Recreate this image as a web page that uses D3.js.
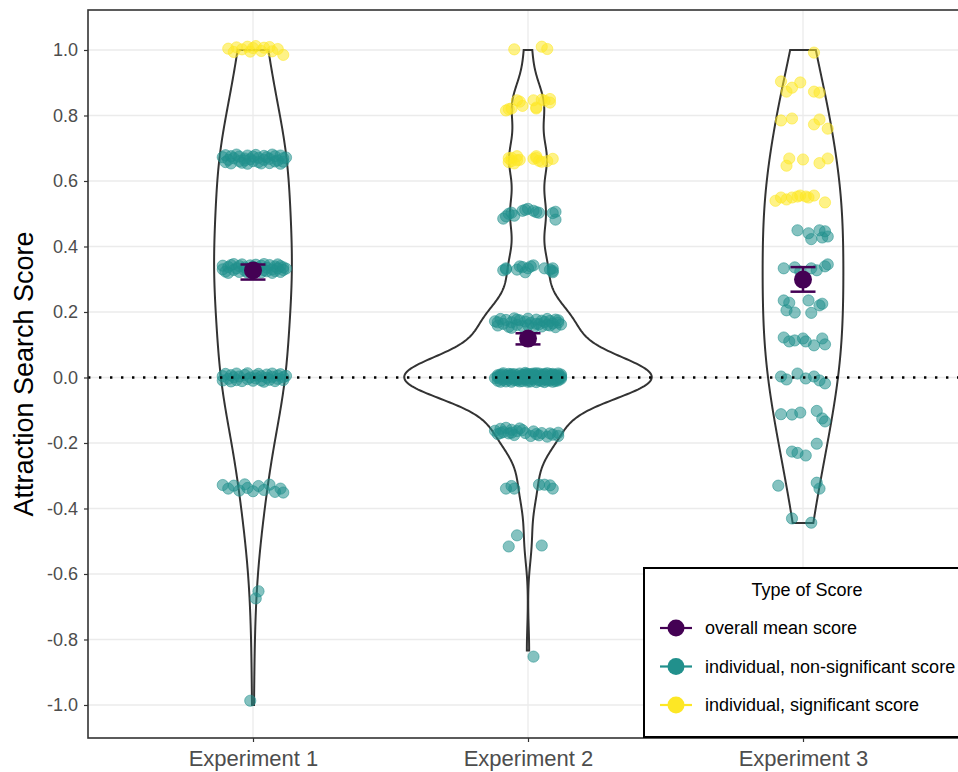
<!DOCTYPE html>
<html>
<head>
<meta charset="utf-8">
<script src="https://cdn.jsdelivr.net/npm/d3@7"></script>
<style>
  body { margin: 0; background: #fff; }
  svg { display: block; font-family: "Liberation Sans", Arial, sans-serif; }
</style>
</head>
<body>
<svg id="chart" width="958" height="772"></svg>
<script>
// ---- data ----
const experiments = ["Experiment 1", "Experiment 2", "Experiment 3"];
const yTicks = [-1, -0.8, -0.6, -0.4, -0.2, 0, 0.2, 0.4, 0.6, 0.8, 1];
const yTickLabels = ["-1.0", "-0.8", "-0.6", "-0.4", "-0.2", "0.0", "0.2", "0.4", "0.6", "0.8", "1.0"];

// overall mean score with its error bar, per experiment
const meanScores = [0.327, 0.119, 0.299];
const meanLow = [0.299, 0.101, 0.262];
const meanHigh = [0.345, 0.135, 0.337];

// violin smoothing bandwidth per experiment
const violinBandwidth = [0.19, 0.07, 0.18];

const legendTitle = "Type of Score";
const legendLabels = ["overall mean score", "individual, non-significant score", "individual, significant score"];
const colors = { mean: "#440154", nonsig: "#21908C", sig: "#FDE725" };

// individual scores: [score, significant, jitter pairs [dx (1/100 category), dy (1/1000 score)]]
const exp1Points = [
  [1, 1, [[-9,4],[-7,-6],[-6,8],[-4,2],[-2,10],[-1,-5],[0,6],[1,12],[3,-3],[4,7],[6,9],[7,-4],[9,3],[11,-15]]],
  [2/3, 0, [[-11,6],[-10,-9],[-10,12],[-9,-2],[-8,9],[-8,-13],[-7,3],[-6,14],[-5,-6],[-5,8],[-4,-11],[-3,2],[-2,11],[-2,-14],[-1,0],[0,8],[0,-6],[1,13],[2,-9],[2,4],[3,-13],[4,10],[4,-2],[5,6],[6,-12],[6,1],[7,14],[8,-7],[8,9],[9,-4],[10,11],[10,-14],[11,3],[11,-8],[12,5],[-3,-4]]],
  [1/3, 0, [[-11,-3],[-11,8],[-10,-10],[-9,4],[-9,-14],[-8,10],[-7,-5],[-7,13],[-6,0],[-5,-11],[-5,7],[-4,12],[-3,-7],[-3,3],[-2,-13],[-1,9],[-1,-2],[0,5],[0,-10],[1,11],[1,-4],[2,1],[3,-12],[3,8],[4,-6],[4,13],[5,2],[5,-9],[6,10],[7,-3],[7,-14],[8,6],[8,-8],[9,12],[9,0],[10,-11],[10,7],[11,-5],[11,3],[12,-1]]],
  [0, 0, [[-11,4],[-11,-9],[-10,11],[-9,-4],[-8,7],[-8,-12],[-7,1],[-6,-8],[-6,12],[-5,3],[-4,-11],[-3,8],[-2,-5],[-2,13],[-1,0],[0,-10],[1,6],[1,-3],[2,11],[3,-9],[3,4],[4,-13],[5,9],[5,-1],[6,-7],[7,12],[7,2],[8,-11],[9,6],[9,-4],[10,10],[11,-8],[11,1],[12,5]]],
  [-1/3, 0, [[-11,5],[-9,-6],[-7,3],[-5,-12],[-3,7],[-2,-4],[0,-14],[2,2],[4,-10],[6,6],[8,-16],[10,-6],[11,-18]]],
  [-2/3, 0, [[1,-8],[2,14]]],
  [-1, 0, [[-1,13]]]
];

const exp2Points = [
  [1, 1, [[-5,2],[5,10],[7,3]]],
  [5/6, 1, [[-8,-18],[-6,-12],[-4,13],[2,13],[3,-12],[5,15],[8,17],[8,6],[-2,-4],[-7,-14],[3,-9],[6,12],[-3,9]]],
  [2/3, 1, [[-7,3],[-6,-6],[-4,9],[-5,-13],[2,1],[3,9],[4,-5],[7,-6],[9,1],[-3,-2],[-6,4],[-4,-3],[3,4],[5,-8],[-7,-9]]],
  [1/2, 0, [[-9,-15],[-7,0],[-2,9],[0,15],[2,9],[4,3],[10,6],[10,-18],[-5,-6],[-8,-8],[-1,12],[3,5],[9,2],[-6,3]]],
  [1/3, 0, [[-9,-6],[-8,0],[-3,6],[-1,-12],[0,0],[2,9],[6,0],[9,0],[9,-12],[-4,-4],[-8,-3],[-2,4],[1,6],[8,-4],[9,-8]]],
  [1/6, 0, [[-12,5],[-11,-8],[-10,12],[-9,-3],[-8,9],[-7,-12],[-6,2],[-5,14],[-4,-6],[-3,8],[-2,-10],[-1,4],[0,13],[0,-7],[1,0],[2,-14],[3,10],[4,-4],[5,7],[5,-11],[6,3],[7,12],[8,-8],[8,6],[9,-2],[10,10],[10,-13],[11,1],[12,-5],[-6,-15],
            [-11,2],[-4,10],[3,-3],[7,-6],[11,8]]],
  [0, 0, [[-11,3],[-11,-10],[-10,9],[-10,-4],[-9,13],[-9,-1],[-8,-12],[-8,6],[-7,0],[-7,11],
          [-7,-7],[-6,4],[-6,-13],[-5,10],[-5,-3],[-4,7],[-4,-9],[-4,1],[-3,12],[-3,-6],
          [-2,3],[-2,-11],[-2,8],[-1,-2],[-1,14],[0,-8],[0,5],[0,-1],[1,10],[1,-12],
          [1,2],[2,-5],[2,9],[3,-14],[3,0],[3,6],[4,-9],[4,12],[5,-2],[5,4],
          [5,-11],[6,8],[6,-6],[7,1],[7,13],[7,-10],[8,5],[8,-3],[9,11],[9,-13],
          [9,2],[10,-7],[10,8],[11,-1],[11,12],[11,-9],[12,4],[12,-4],[-11,7],[-9,-7],
          [-8,1],[-6,10],[-5,-8],[-3,2],[-1,-6],[0,11],[2,-1],[4,3],[6,-14],[8,10],
          [10,0],[-10,-13],[-7,5],[-4,-4],[-1,7],[1,-4],[3,13],[6,1],[9,-5],[11,6],
          [-12,-2],[-9,9],[-6,-2],[-3,-12],[0,2],[2,12],[5,9],[7,-5],[10,-11],[12,9],
          [-11,0],[-10,5],[-8,-5],[-6,7],[-5,0],[-3,-3],[-1,10],[0,-13],[2,4],[4,-6],
          [6,11],[8,-9],[9,7],[11,-4],[12,0]]],
  [-1/6, 0, [[-12,4],[-11,-6],[-10,10],[-9,0],[-8,13],[-7,-4],[-6,7],[-5,-9],[-4,3],[-3,11],[-1,-3],[1,-12],[2,2],[4,-10],[5,-3],[7,-14],[9,-8],[11,-12],[11,-2],[-2,6],
             [-10,-3],[-6,-2],[3,-6],[8,-4]]],
  [-1/3, 0, [[-8,-6],[-5,-6],[4,6],[6,6],[8,4],[9,-6],[-6,2]]],
  [-1/2, 0, [[-4,18],[-7,-16],[5,-13]]],
  [-5/6, 0, [[2,-19]]]
];

const exp3Points = [
  [1, 1, [[4,-8]]],
  [8/9, 1, [[-8,15],[-6,-16],[-4,-4],[-1,12],[4,-16],[6,-19]]],
  [7/9, 1, [[-8,7],[-4,13],[4,-5],[6,10],[9,-18]]],
  [6/9, 1, [[-5,2],[-6,-20],[0,-1],[6,-12],[9,2]]],
  [5/9, 1, [[-10,-16],[-8,-6],[-6,-12],[-4,-6],[-2,-3],[-1,0],[1,-3],[2,-6],[4,0],[8,-21]]],
  [4/9, 0, [[-2,5],[2,-4],[6,5],[8,2],[7,-17],[9,-14],[3,-22]]],
  [3/9, 0, [[-7,0],[-1,-10],[3,0],[5,-6],[9,12],[8,6],[-3,3]]],
  [2/9, 0, [[-7,13],[-6,-17],[-3,-24],[2,13],[3,-25],[6,-2],[7,3],[-5,6]]],
  [1/9, 0, [[-7,11],[-5,-1],[-3,2],[1,-1],[4,-13],[7,8],[8,-10],[0,8]]],
  [0, 0, [[-8,3],[-2,12],[1,-3],[4,3],[6,-9],[8,-18],[-6,-6]]],
  [-1/9, 0, [[-8,-1],[-4,-2],[5,9],[7,-14],[8,-23],[-1,4]]],
  [-2/9, 0, [[-4,-4],[-2,-8],[1,-16],[5,20]]],
  [-3/9, 0, [[-9,3],[5,12],[6,-6]]],
  [-4/9, 0, [[-4,14],[3,1]]]
];

const allPoints = [exp1Points, exp2Points, exp3Points];

// ---- layout ----
const svg = d3.select("#chart");
const panel = { left: 88, top: 10, right: 968, bottom: 738 };

const x = d3.scalePoint()
  .domain(experiments)
  .range([panel.left, panel.right])
  .padding(0.6);
const step = x.step();

const y = d3.scaleLinear()
  .domain([-1.1008, 1.1221])
  .range([panel.bottom, panel.top]);

// grid
const grid = svg.append("g");
grid.selectAll("line.h").data(yTicks).enter().append("line")
  .attr("x1", panel.left).attr("x2", panel.right)
  .attr("y1", d => y(d)).attr("y2", d => y(d))
  .attr("stroke", "#ebebeb").attr("stroke-width", 1.3);
grid.selectAll("line.v").data(experiments).enter().append("line")
  .attr("x1", d => x(d)).attr("x2", d => x(d))
  .attr("y1", panel.top).attr("y2", panel.bottom)
  .attr("stroke", "#ebebeb").attr("stroke-width", 1.3);

// violins (gaussian kde, trimmed, scaled by area)
function kde(values, bw) {
  const lo = d3.min(values), hi = d3.max(values);
  const norm = values.length * bw * Math.sqrt(2 * Math.PI);
  return d3.range(512).map(i => {
    const v = lo + (hi - lo) * i / 511;
    return [v, d3.sum(values, s => Math.exp(-0.5 * ((v - s) / bw) ** 2)) / norm];
  });
}

const densities = allPoints.map((levels, i) => {
  const scores = levels.flatMap(([s, , pts]) => pts.map(() => s));
  return kde(scores, violinBandwidth[i]);
});
const maxDensity = d3.max(densities, ds => d3.max(ds, d => d[1]));
const w = d3.scaleLinear().domain([0, maxDensity]).range([0, 0.45 * step]);

densities.forEach((ds, i) => {
  const cx = x(experiments[i]);
  const area = d3.area()
    .y(d => y(d[0]))
    .x0(d => cx - w(d[1]))
    .x1(d => cx + w(d[1]));
  svg.append("path")
    .attr("d", area(ds))
    .attr("fill", "none")
    .attr("stroke", "#333333")
    .attr("stroke-width", 2);
});

// jittered points
const pointRows = allPoints.flatMap((levels, i) =>
  levels.flatMap(([s, sig, pts]) => pts.map(([dx, dy]) => ({ exp: experiments[i], s, sig, dx, dy })))
);
svg.append("g").selectAll("circle").data(pointRows).enter().append("circle")
  .attr("cx", d => x(d.exp) + d.dx / 100 * step)
  .attr("cy", d => y(d.s + d.dy / 1000))
  .attr("r", 5.6)
  .attr("fill", d => d.sig ? colors.sig : colors.nonsig)
  .attr("fill-opacity", 0.55)
  .attr("stroke", d => d.sig ? colors.sig : colors.nonsig)
  .attr("stroke-opacity", 0.55)
  .attr("stroke-width", 1);

// dotted zero line
svg.append("line")
  .attr("x1", panel.left).attr("x2", panel.right)
  .attr("y1", y(0)).attr("y2", y(0))
  .attr("stroke", "#000").attr("stroke-width", 2.4)
  .attr("stroke-dasharray", "2.4 8.6");

// means with error bars
const means = svg.append("g");
experiments.forEach((e, i) => {
  const cx = x(e);
  means.append("line").attr("x1", cx).attr("x2", cx)
    .attr("y1", y(meanLow[i])).attr("y2", y(meanHigh[i]))
    .attr("stroke", colors.mean).attr("stroke-width", 2.5);
  [meanLow[i], meanHigh[i]].forEach(v => {
    means.append("line").attr("x1", cx - 12.5).attr("x2", cx + 12.5)
      .attr("y1", y(v)).attr("y2", y(v))
      .attr("stroke", colors.mean).attr("stroke-width", 2.5);
  });
  means.append("circle").attr("cx", cx).attr("cy", y(meanScores[i]))
    .attr("r", 9).attr("fill", colors.mean);
});

// panel border
svg.append("rect")
  .attr("x", panel.left).attr("y", panel.top)
  .attr("width", panel.right - panel.left).attr("height", panel.bottom - panel.top)
  .attr("fill", "none").attr("stroke", "#333333").attr("stroke-width", 1.6);

// axes
const yAxis = svg.append("g")
  .attr("transform", `translate(${panel.left},0)`)
  .call(d3.axisLeft(y).tickValues(yTicks).tickSize(4).tickPadding(6)
    .tickFormat((d, i) => yTickLabels[i]));
yAxis.select(".domain").remove();
yAxis.selectAll("line").attr("stroke", "#333333").attr("stroke-width", 1.2);
yAxis.selectAll("text").attr("fill", "#4d4d4d").attr("font-size", 18)
  .attr("font-family", "Liberation Sans, Arial, sans-serif");

const xAxis = svg.append("g")
  .attr("transform", `translate(0,${panel.bottom})`)
  .call(d3.axisBottom(x).tickSize(4).tickPadding(8));
xAxis.select(".domain").remove();
xAxis.selectAll("line").attr("stroke", "#333333").attr("stroke-width", 1.2);
xAxis.selectAll("text").attr("fill", "#4d4d4d").attr("font-size", 22)
  .attr("font-family", "Liberation Sans, Arial, sans-serif");

svg.append("text")
  .attr("transform", `translate(33,${(panel.top + panel.bottom) / 2}) rotate(-90)`)
  .attr("text-anchor", "middle")
  .attr("font-size", 27)
  .attr("fill", "#000")
  .text("Attraction Search Score");

// legend
const legend = svg.append("g").attr("transform", "translate(644,568)");
legend.append("rect")
  .attr("width", 380).attr("height", 169)
  .attr("fill", "#fff").attr("stroke", "#000").attr("stroke-width", 2);
legend.append("text")
  .attr("x", 163).attr("y", 28)
  .attr("text-anchor", "middle")
  .attr("font-size", 18)
  .text(legendTitle);
const keyColors = [colors.mean, colors.nonsig, colors.sig];
legendLabels.forEach((lab, i) => {
  const ky = 60 + i * 38.5;
  legend.append("line").attr("x1", 16).attr("x2", 48).attr("y1", ky).attr("y2", ky)
    .attr("stroke", keyColors[i]).attr("stroke-width", 2.2);
  legend.append("circle").attr("cx", 32).attr("cy", ky).attr("r", 8.5).attr("fill", keyColors[i]);
  legend.append("text").attr("x", 61).attr("y", ky + 6)
    .attr("font-size", 18).text(lab);
});
</script>
</body>
</html>
